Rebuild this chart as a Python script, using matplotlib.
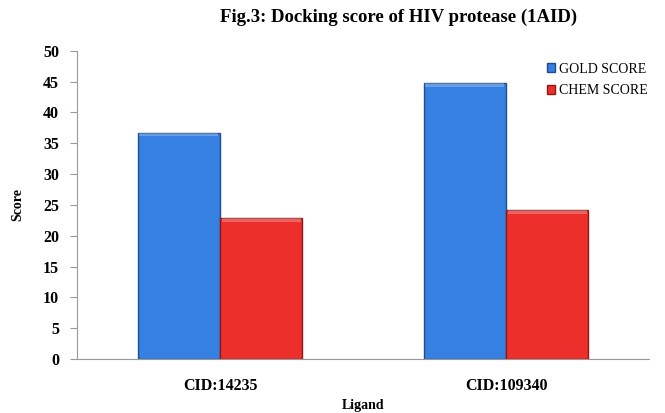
import matplotlib
matplotlib.use("Agg")
import matplotlib.pyplot as plt
import numpy as np
from matplotlib.patches import Patch

categories = ["CID:14235", "CID:109340"]
series_names = ["GOLD SCORE", "CHEM SCORE"]
gold_score = [36.7, 44.7]
chem_score = [22.9, 24.1]
yticks = list(range(0, 55, 5))

plt.rcParams['font.family'] = ['Liberation Serif', 'DejaVu Serif']

fig = plt.figure(figsize=(6.65, 4.13), dpi=100)
ax = fig.add_axes([0.1158, 0.1308, 0.976 - 0.1158, 0.877 - 0.1308])

x = np.arange(len(categories))
w = 0.2875
colors = ["#3580E0", "#EC2F2B"]
edges = ["#1F4E8C", "#8E1A18"]
for i, (vals, c, e) in enumerate(zip([gold_score, chem_score], colors, edges)):
    offs = (i - 0.5) * w
    ax.bar(x + offs, vals, width=w, color=c, edgecolor=e, linewidth=1.0, zorder=2)
    # subtle highlight strip at top (bevel look)
    ax.bar(x + offs, [0.6] * len(vals), bottom=[v - 0.6 for v in vals], width=w * 0.96,
           color="white", alpha=0.25, linewidth=0, zorder=3)

ax.set_xlim(-0.5, 1.5)
ax.set_ylim(0, 50)
ax.set_yticks(yticks)
ax.set_yticklabels([str(t) for t in yticks], fontsize=11.5, fontweight='bold')
ax.set_xticks(x)
ax.set_xticklabels(categories, fontsize=11.5, fontweight='bold')
ax.tick_params(axis='x', length=0, pad=14)
ax.tick_params(axis='y', length=5, direction='out', color='#999999', pad=8)
for s in ['top', 'right']:
    ax.spines[s].set_visible(False)
for s in ['left', 'bottom']:
    ax.spines[s].set_color('#999999')

ax.set_ylabel("Score", fontsize=10, fontweight='bold', labelpad=13)
ax.set_xlabel("Ligand", fontsize=10, fontweight='bold', labelpad=3)

fig.text(0.60, 0.958, "Fig.3: Docking score of HIV protease (1AID)", ha='center', va='center',
         fontsize=13.5, fontweight='bold')

handles = [Patch(facecolor=c, edgecolor=e) for c, e in zip(colors, edges)]
leg = fig.legend(handles, series_names, loc='upper left', bbox_to_anchor=(0.822, 0.848),
                 frameon=False, fontsize=10, handlelength=0.6, handleheight=0.6,
                 handletextpad=0.3, labelspacing=0.6, borderaxespad=0, borderpad=0)

fig.savefig("out.png", dpi=100)
